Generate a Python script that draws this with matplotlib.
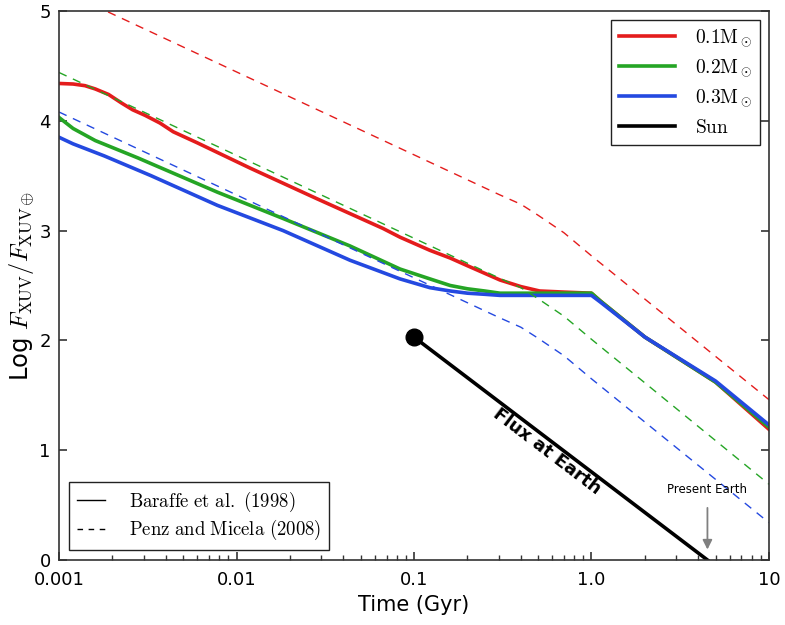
import matplotlib
matplotlib.use("Agg")
import matplotlib.pyplot as plt
from matplotlib.ticker import FixedLocator, FixedFormatter, LogLocator, NullFormatter
import numpy as np

plt.rcParams['mathtext.fontset'] = 'cm'

# Baraffe et al. (1998) based tracks (solid)
t_red = [0.001, 0.0012, 0.0014, 0.0016, 0.0019, 0.00226, 0.0026, 0.00305, 0.0037, 0.0044,
         0.006, 0.0119, 0.0284, 0.0668, 0.0834, 0.123, 0.16, 0.2, 0.305, 0.4, 0.51, 0.7,
         1.0, 1.12, 2.0, 5.0, 10.0]
y_red = [4.34, 4.335, 4.32, 4.29, 4.24, 4.16, 4.10, 4.05, 3.98, 3.90,
         3.80, 3.57, 3.29, 3.02, 2.94, 2.82, 2.75, 2.68, 2.55, 2.49, 2.45, 2.44,
         2.43, 2.36, 2.03, 1.62, 1.19]
t_green = [0.001, 0.0012, 0.0016, 0.0028, 0.0033, 0.0078, 0.0183, 0.0436, 0.0834, 0.123,
           0.16, 0.2, 0.25, 0.305, 0.5, 1.0, 1.12, 2.0, 5.0, 10.0]
y_green = [4.03, 3.93, 3.82, 3.66, 3.61, 3.35, 3.11, 2.86, 2.65, 2.56,
           2.50, 2.47, 2.45, 2.43, 2.43, 2.43, 2.36, 2.03, 1.62, 1.21]
t_blue = [0.001, 0.0012, 0.0018, 0.0033, 0.0078, 0.0183, 0.0436, 0.0834, 0.123, 0.16,
          0.2, 0.25, 0.305, 1.0, 1.12, 2.0, 5.0, 10.0]
y_blue = [3.85, 3.79, 3.68, 3.50, 3.23, 3.00, 2.73, 2.56, 2.48, 2.45,
          2.43, 2.42, 2.41, 2.41, 2.35, 2.03, 1.63, 1.23]

# Penz and Micela (2008) (dashed)
t_pm = [0.001, 0.3, 0.4, 0.5, 0.7, 1.0, 10.0]
y_pm_red = [5.20, 3.33, 3.24, 3.14, 2.98, 2.77, 1.46]
y_pm_green = [4.44, 2.57, 2.48, 2.38, 2.22, 2.01, 0.69]
y_pm_blue = [4.08, 2.21, 2.12, 2.02, 1.86, 1.65, 0.34]

# Sun: flux at Earth
t_sun = [0.1, 4.5]
y_sun = [2.03, 0.0]

labels = [r'$\mathrm{0.1M_\odot}$', r'$\mathrm{0.2M_\odot}$', r'$\mathrm{0.3M_\odot}$', r'$\mathrm{Sun}$']
src_labels = [r'$\mathrm{Baraffe\ et\ al.\ (1998)}$', r'$\mathrm{Penz\ and\ Micela\ (2008)}$']
xticks = [0.001, 0.01, 0.1, 1.0, 10.0]
xticklabels = ['0.001', '0.01', '0.1', '1.0', '10']
yticks = [0, 1, 2, 3, 4, 5]

c_red = '#e41c1c'
c_green = '#25a525'
c_blue = '#2449e0'

fig = plt.figure(figsize=(7.85, 6.25), dpi=100)
ax = fig.add_axes([0.0752, 0.104, 0.9044, 0.8784])

h1, = ax.plot(t_red, y_red, color=c_red, lw=2.6)
h2, = ax.plot(t_green, y_green, color=c_green, lw=2.6)
h3, = ax.plot(t_blue, y_blue, color=c_blue, lw=2.6)
ax.plot(t_pm, y_pm_red, color=c_red, lw=1.0, ls=(0, (6, 5)))
ax.plot(t_pm, y_pm_green, color=c_green, lw=1.0, ls=(0, (6, 5)))
ax.plot(t_pm, y_pm_blue, color=c_blue, lw=1.0, ls=(0, (6, 5)))
h4, = ax.plot(t_sun, y_sun, color='black', lw=2.6, clip_on=True)
ax.plot([t_sun[0]], [y_sun[0]], 'o', color='black', ms=12, zorder=5)

ax.set_xscale('log')
ax.set_xlim(0.001, 10)
ax.set_ylim(0, 5)

ax.xaxis.set_major_locator(FixedLocator(xticks))
ax.xaxis.set_major_formatter(FixedFormatter(xticklabels))
ax.xaxis.set_minor_locator(LogLocator(base=10, subs=np.arange(2, 10)))
ax.xaxis.set_minor_formatter(NullFormatter())
ax.set_yticks(yticks)

ax.tick_params(axis='both', which='major', direction='in', labelsize=13, length=6, width=1.2, color='#333333')
ax.tick_params(axis='x', which='major', pad=8)
ax.tick_params(axis='y', which='major', pad=6, right=True)
ax.tick_params(axis='x', which='minor', direction='in', length=3.5, width=1, color='#333333', top=False)
ax.tick_params(axis='x', top=False)
for s in ax.spines.values():
    s.set_color('#333333')
    s.set_linewidth(1.2)

ax.set_xlabel('Time (Gyr)', fontsize=15)
ax.set_ylabel(r'Log $F_{\rm XUV}/F_{\rm XUV\oplus}$', fontsize=17.5, labelpad=2)

# annotations
ax.text(0.559, 0.985, 'Flux at Earth', rotation=-37.2, rotation_mode='anchor',
        ha='center', va='center', fontsize=13, fontweight='bold')
ax.annotate('', xy=(4.5, 0.07), xytext=(4.5, 0.5),
            arrowprops=dict(arrowstyle='-|>', color='#808080', lw=1.3, mutation_scale=14))
ax.text(4.5, 0.64, 'Present Earth', ha='center', va='center', fontsize=8.5)

leg1 = ax.legend([h1, h2, h3, h4], labels, loc='upper right', fontsize=14,
                 handlelength=2.9, handletextpad=1.0, fancybox=False, edgecolor='#222222',
                 framealpha=1, borderaxespad=0.45, labelspacing=0.45)
leg1.get_frame().set_linewidth(1.0)
ax.add_artist(leg1)

s1, = ax.plot([], [], color='black', lw=1.0)
s2, = ax.plot([], [], color='black', lw=1.0, ls=(0, (4, 4)))
leg2 = ax.legend([s1, s2], src_labels, loc='lower left', fontsize=13.5,
                 handlelength=1.5, handletextpad=1.3, fancybox=False, edgecolor='#222222',
                 framealpha=1, borderaxespad=0.55, labelspacing=0.22)
leg2.get_frame().set_linewidth(1.0)

fig.savefig('out.png', dpi=100)
